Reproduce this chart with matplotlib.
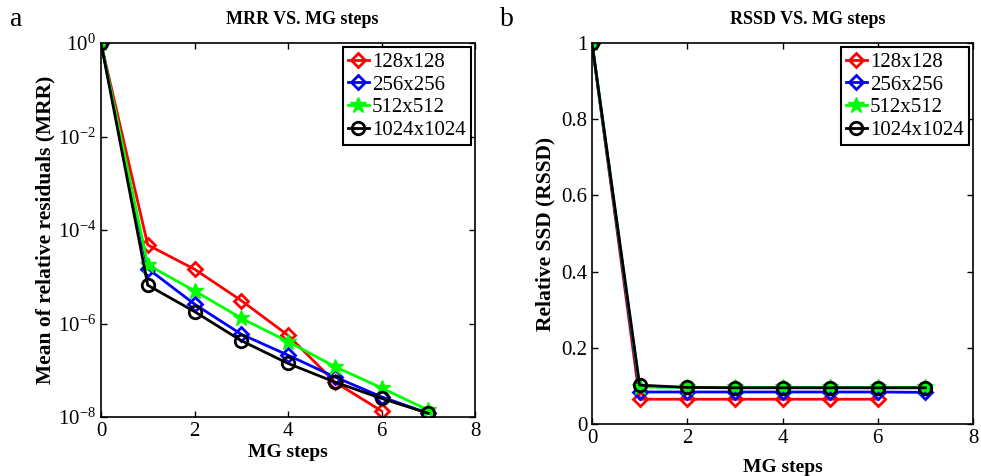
import matplotlib
matplotlib.use("Agg")
import matplotlib.pyplot as plt
from matplotlib.ticker import FixedLocator, FixedFormatter

plt.rcParams['font.family'] = ['Liberation Serif', 'DejaVu Serif']
plt.rcParams['mathtext.fontset'] = 'custom'
plt.rcParams['mathtext.rm'] = 'Liberation Serif'
plt.rcParams['mathtext.it'] = 'Liberation Serif:italic'

# MG steps
steps = [0, 1, 2, 3, 4, 5, 6, 7]
labels = ['128x128', '256x256', '512x512', '1024x1024']

# panel a: mean of relative residuals
mrr_128 = [1.0, 4.8e-5, 1.45e-5, 3.1e-6, 5.6e-7, 5.6e-8, 1.35e-8]
mrr_256 = [1.0, 1.5e-5, 2.6e-6, 5.9e-7, 2.1e-7, 7.2e-8, 2.7e-8, 1.2e-8]
mrr_512 = [1.0, 1.8e-5, 5.0e-6, 1.3e-6, 4.1e-7, 1.2e-7, 4.2e-8, 1.4e-8]
mrr_1024 = [1.0, 6.6e-6, 1.8e-6, 4.3e-7, 1.4e-7, 5.6e-8, 2.5e-8, 1.2e-8]

# panel b: relative SSD
rssd_128 = [1.0, 0.065, 0.065, 0.065, 0.065, 0.065, 0.065]
rssd_256 = [1.0, 0.084, 0.084, 0.084, 0.084, 0.084, 0.084, 0.083]
rssd_512 = [1.0, 0.097, 0.096, 0.096, 0.096, 0.096, 0.096, 0.096]
rssd_1024 = [1.0, 0.102, 0.096, 0.095, 0.095, 0.095, 0.095, 0.095]

styles = [dict(color='#ff0000', marker='D', mfc='none', ms=7.5, mew=2),
          dict(color='#0000ff', marker='D', mfc='none', ms=7.5, mew=2),
          dict(color='#00ff00', marker='*', ms=12, mew=1),
          dict(color='#000000', marker='o', mfc='none', ms=9, mew=2)]

fig = plt.figure(figsize=(9.81, 4.76), dpi=100)
ax1 = fig.add_axes([101/981, 1-417/476, 374/981, 374/476])
ax2 = fig.add_axes([592/981, 1-424/476, 381/981, 381/476])


def style_axes(ax):
    ax.tick_params(direction='in', which='both', top=True, right=True,
                   labelsize=15, length=4, width=1)
    ax.minorticks_off()
    for s in ax.spines.values():
        s.set_linewidth(1.2)


def add_legend(ax):
    leg = ax.legend(loc='upper right', fontsize=15, handlelength=1.0, handletextpad=0.15,
                    borderpad=0.25, labelspacing=0.15, borderaxespad=0.2,
                    fancybox=False, edgecolor='black', framealpha=1)
    leg.get_frame().set_linewidth(1.5)


for ys, lab, st in zip([mrr_128, mrr_256, mrr_512, mrr_1024], labels, styles):
    ax1.semilogy(steps[:len(ys)], ys, lw=2, label=lab, **st)
ax1.set_xlim(0, 8)
ax1.set_ylim(1e-8, 1)
ax1.set_xticks([0, 2, 4, 6, 8])
yt = [1e-8, 1e-6, 1e-4, 1e-2, 1]
ax1.yaxis.set_major_locator(FixedLocator(yt))
ax1.yaxis.set_major_formatter(FixedFormatter([r'$10^{-8}$', r'$10^{-6}$', r'$10^{-4}$',
                                              r'$10^{-2}$', r'$10^{0}$']))
style_axes(ax1)
ax1.set_xlabel('MG steps', fontsize=14, fontweight='bold', labelpad=2)
ax1.set_ylabel('Mean of relative residuals (MRR)', fontsize=15.5, fontweight='bold', labelpad=2)
ax1.set_title('MRR VS. MG steps', fontsize=13, fontweight='bold', pad=14, x=0.537)
add_legend(ax1)

for ys, lab, st in zip([rssd_128, rssd_256, rssd_512, rssd_1024], labels, styles):
    ax2.plot(steps[:len(ys)], ys, lw=2, label=lab, **st)
ax2.set_xlim(0, 8)
ax2.set_ylim(0, 1)
ax2.set_xticks([0, 2, 4, 6, 8])
ax2.set_yticks([0, 0.2, 0.4, 0.6, 0.8, 1])
ax2.set_yticklabels(['0', '0.2', '0.4', '0.6', '0.8', '1'])
style_axes(ax2)
ax2.set_xlabel('MG steps', fontsize=14, fontweight='bold', labelpad=8)
ax2.set_ylabel('Relative SSD (RSSD)', fontsize=15.5, fontweight='bold')
ax2.set_title('RSSD VS. MG steps', fontsize=13, fontweight='bold', pad=14, x=0.567)
add_legend(ax2)

fig.text(10/981, 1-20/476, 'a', fontsize=20, va='center', ha='left')
fig.text(500/981, 1-20/476, 'b', fontsize=20, va='center', ha='left')

fig.savefig('out.png', dpi=100)
